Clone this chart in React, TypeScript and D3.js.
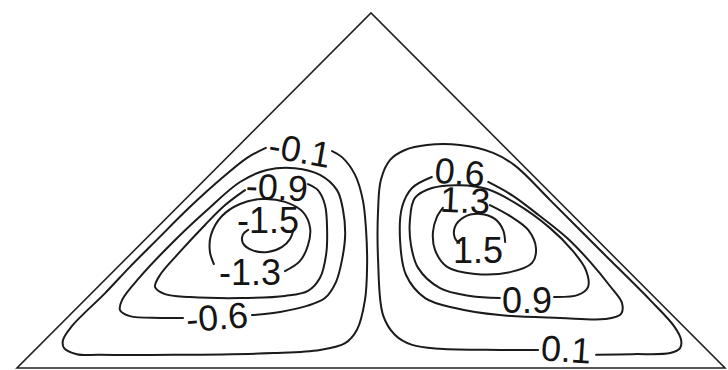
import React from "react";
import * as d3 from "d3";

type Pt = [number, number];

const WIDTH = 728;
const HEIGHT = 370;

// Triangular cavity: base along y = 0 from x = 0 to x = 200, apex at (100, 100)
const cavity: Pt[] = [
  [0, 0],
  [200, 0],
  [100, 100],
];

// Stream-function isolines, left (negative) cell
const leftLevel01: Pt[] = [
  [89.0, 61.1], [91.8, 59.4], [95.5, 54.4], [97.7, 47.3], [98.6, 38.9], [98.9, 29.0],
  [98.3, 19.2], [96.0, 10.7], [92.7, 7.0], [85.6, 5.1], [72.3, 4.2], [44.1, 3.7],
  [23.4, 3.7], [16.9, 3.9], [13.3, 5.6], [13.0, 7.9], [15.5, 11.8], [24.9, 21.1],
  [31.9, 28.5], [39.5, 36.1], [48.9, 45.4], [57.9, 53.5], [65.0, 59.2], [70.3, 62.0],
];
const leftLevel06: Pt[] = [
  [66.4, 14.9], [74.3, 15.8], [81.9, 17.5], [87.0, 19.7], [90.1, 24.2], [91.8, 30.4],
  [92.7, 37.5], [92.1, 44.5], [90.4, 50.1], [85.6, 54.4], [78.5, 56.3], [70.6, 55.8],
  [63.0, 52.4], [53.7, 44.5], [44.1, 35.5], [34.7, 25.6], [29.7, 19.2], [29.1, 16.3],
  [31.9, 14.6], [40.4, 14.1], [46.9, 14.1],
];
const leftLevel09: Pt[] = [
  [82.2, 51.8], [85.0, 50.1], [87.0, 45.9], [87.6, 38.9], [87.3, 31.8], [85.6, 25.4],
  [82.2, 21.7], [75.7, 20.3], [63.0, 19.7], [48.9, 20.0], [41.8, 20.8], [39.0, 22.8],
  [40.4, 26.2], [46.0, 32.7], [53.1, 40.3], [58.8, 45.9], [64.4, 50.1],
];
const leftLevel13: Pt[] = [
  [75.7, 27.3], [79.9, 30.1], [82.2, 34.6], [82.8, 39.4], [80.8, 43.9], [75.7, 46.8],
  [69.2, 47.6], [63.0, 46.2], [57.9, 42.8], [54.8, 37.5], [54.5, 32.7], [55.6, 29.3],
];
const leftLevel15: Pt[] = [
  [78.0, 38.6], [77.1, 36.3], [74.9, 34.1], [70.9, 32.7], [66.4, 33.2], [63.8, 35.2],
  [63.8, 37.5], [65.3, 38.9],
];

// Stream-function isolines, right (positive) cell
const rightLevel01: Pt[] = [
  [163.6, 3.7], [174.0, 3.9], [184.5, 4.2], [187.3, 5.6], [187.6, 7.9], [185.6, 11.8],
  [178.8, 19.2], [164.4, 33.5], [150.6, 47.3], [140.7, 57.0], [134.5, 60.6], [125.1, 62.8],
  [115.8, 62.8], [109.6, 61.4], [105.4, 58.6], [102.8, 53.0], [102.0, 44.5], [102.0, 30.4],
  [103.4, 14.9], [106.8, 9.3], [111.6, 6.5], [119.5, 5.4], [136.4, 5.1], [147.2, 5.1],
];
const rightLevel06: Pt[] = [
  [133.1, 52.4], [140.1, 48.5], [147.7, 42.8], [155.4, 36.6], [161.9, 29.9], [167.5, 23.1],
  [170.9, 18.3], [170.6, 15.2], [166.1, 13.8], [153.4, 14.1], [136.4, 14.9], [123.7, 16.9],
  [115.3, 19.7], [109.9, 26.2], [108.2, 36.1], [108.8, 45.4], [111.6, 50.7], [117.2, 53.8],
];
const rightLevel09: Pt[] = [
  [151.7, 20.0], [158.5, 20.6], [161.3, 22.8], [160.7, 27.6], [156.8, 33.2], [150.6, 39.4],
  [140.7, 46.5], [132.8, 50.4], [125.1, 51.5], [117.2, 50.7], [112.4, 47.9], [111.0, 41.7],
  [111.3, 34.6], [113.3, 28.2], [119.5, 22.5], [128.0, 20.3], [136.4, 19.7],
];
const rightLevel13: Pt[] = [
  [133.6, 45.9], [139.3, 42.8], [144.4, 38.9], [146.6, 33.8], [145.5, 29.6], [139.3, 27.0],
  [129.4, 26.5], [121.5, 28.5], [118.1, 33.2], [117.5, 38.3], [118.6, 42.5], [120.3, 45.1],
];
const rightLevel15: Pt[] = [
  [137.9, 35.5], [137.3, 38.9], [135.0, 42.0], [130.8, 43.4], [126.3, 42.5], [123.7, 39.7],
  [123.7, 36.6], [124.9, 35.2],
];

const isolines: Pt[][] = [
  leftLevel01, leftLevel06, leftLevel09, leftLevel13, leftLevel15,
  rightLevel01, rightLevel06, rightLevel09, rightLevel13, rightLevel15,
];

// Inline level labels and where they sit on their isolines
const labelTexts = ["-0.1", "-0.9", "-1.5", "-1.3", "-0.6", "0.6", "1.3", "1.5", "0.9", "0.1"];
const labelAnchors: Pt[] = [
  [79.9, 61.4], [73.4, 51.0], [70.9, 41.7], [65.8, 27.0], [56.5, 14.4],
  [125.1, 55.2], [126.6, 47.3], [130.2, 33.2], [144.1, 19.2], [155.1, 5.3],
];
// Orientation of each label along its isoline (degrees)
const labelTilt = [10, 3, 0, 0, -5, 5, 3, 0, 0, 4];

export default function App() {
  const x = d3.scaleLinear().domain([0, 200]).range([17, 725]);
  const y = d3.scaleLinear().domain([0, 100]).range([368, 13]);

  const smooth = d3
    .line<Pt>()
    .x((d) => x(d[0]))
    .y((d) => y(d[1]))
    .curve(d3.curveCatmullRom.alpha(0.5));

  const outline = d3
    .line<Pt>()
    .x((d) => x(d[0]))
    .y((d) => y(d[1]))
    .curve(d3.curveLinearClosed);

  return (
    <svg
      width={WIDTH}
      height={HEIGHT}
      viewBox={`0 0 ${WIDTH} ${HEIGHT}`}
      style={{ position: "absolute", left: 0, top: 0, background: "#fff" }}
    >
      <rect width={WIDTH} height={HEIGHT} fill="#fff" />
      <path d={outline(cavity) ?? ""} fill="none" stroke="#222" strokeWidth={1.6} strokeLinejoin="miter" />
      <g fill="none" stroke="#1b1b1b" strokeWidth={2} strokeLinecap="round">
        {isolines.map((pts, i) => (
          <path key={i} d={smooth(pts) ?? ""} />
        ))}
      </g>
      <g
        fontFamily="'Liberation Sans', Arial, Helvetica, sans-serif"
        fontSize={36}
        fill="#151515"
        textAnchor="middle"
      >
        {labelTexts.map((t, i) => (
          <text
            key={t + i}
            transform={`translate(${x(labelAnchors[i][0])},${y(labelAnchors[i][1])}) rotate(${labelTilt[i]})`}
            dy="0.355em"
          >
            {t}
          </text>
        ))}
      </g>
    </svg>
  );
}
